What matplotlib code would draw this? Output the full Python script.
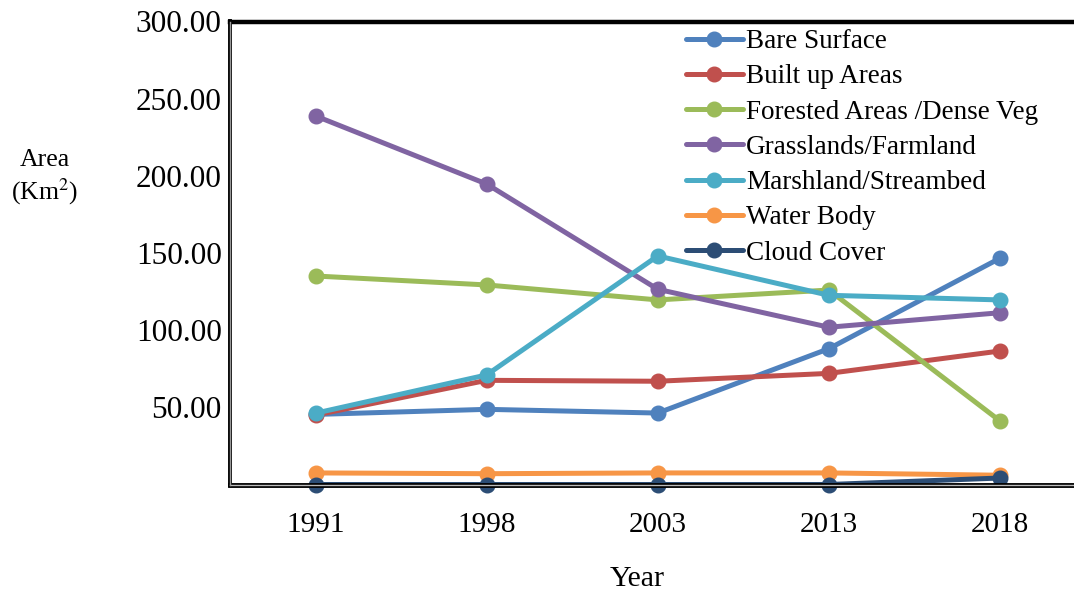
import matplotlib.pyplot as plt
import matplotlib.ticker as mticker

plt.rcParams['font.family'] = ['Liberation Serif', 'DejaVu Serif']

years = ["1991", "1998", "2003", "2013", "2018"]

bare_surface = [45.4, 48.7, 46.3, 88.0, 146.6]
built_up = [45.0, 67.5, 66.9, 72.0, 86.5]
forested = [135.1, 129.3, 119.6, 126.0, 41.2]
grasslands = [238.8, 194.7, 126.5, 101.9, 111.3]
marshland = [46.2, 71.0, 148.1, 122.6, 119.6]
water_body = [7.5, 7.0, 7.5, 7.5, 6.0]
cloud_cover = [0.0, 0.0, 0.0, 0.0, 4.2]

series_names = ["Bare Surface", "Built up Areas", "Forested Areas /Dense Veg",
                "Grasslands/Farmland", "Marshland/Streambed", "Water Body", "Cloud Cover"]
colors = ["#4F81BD", "#C0504D", "#9BBB59", "#8064A2", "#4BACC6", "#F79646", "#2C4D75"]

fig = plt.figure(figsize=(10.74, 5.95), dpi=100)
ax = fig.add_axes([230 / 1074, 110.5 / 595, 855.5 / 1074, 463 / 595])

x = range(len(years))
all_series = [bare_surface, built_up, forested, grasslands, marshland, water_body, cloud_cover]
for name, vals, c in zip(series_names, all_series, colors):
    ax.plot(x, vals, color=c, lw=3.6, marker='o', markersize=10.5, label=name,
            solid_capstyle='round', clip_on=False)

ax.set_xlim(-0.5, 4.5)
ax.set_ylim(0, 300)
ax.set_xticks(list(x))
ax.set_xticklabels(years)
ax.set_yticks([50, 100, 150, 200, 250, 300])
ax.yaxis.set_major_formatter(mticker.FormatStrFormatter('%.2f'))
ax.tick_params(length=0)
ax.tick_params(axis='x', pad=20, labelsize=21)
ax.tick_params(axis='y', pad=6, labelsize=22.5)

# frame: heavy top / left, double line along the bottom, nothing on the right
ax.spines['right'].set_visible(False)
ax.spines['top'].set_linewidth(3.2)
ax.spines['left'].set_linewidth(2.8)
ax.spines['bottom'].set_linewidth(3.5)
ax.axhline(0, color='#BBBBBB', lw=1.0, zorder=2.6, clip_on=False)
ax.axvline(-0.5, color='#999999', lw=1.0, zorder=2.6, clip_on=False)

leg = ax.legend(loc='upper left', bbox_to_anchor=(686 / 1074, 566 / 595),
                bbox_transform=fig.transFigure, frameon=False, fontsize=19.5,
                handlelength=2.1, handletextpad=0.12, labelspacing=0.38,
                borderaxespad=0, borderpad=0)

fig.text(45 / 1074, 1 - 160 / 595, "Area", ha='center', va='center', fontsize=18.5)
fig.text(45 / 1074, 1 - 192 / 595, "(Km$^2$)", ha='center', va='center', fontsize=18.5,
         math_fontfamily='stix')
fig.text(637 / 1074, 1 - 579 / 595, "Year", ha='center', va='center', fontsize=21.5)

fig.savefig("out.png", dpi=100)
